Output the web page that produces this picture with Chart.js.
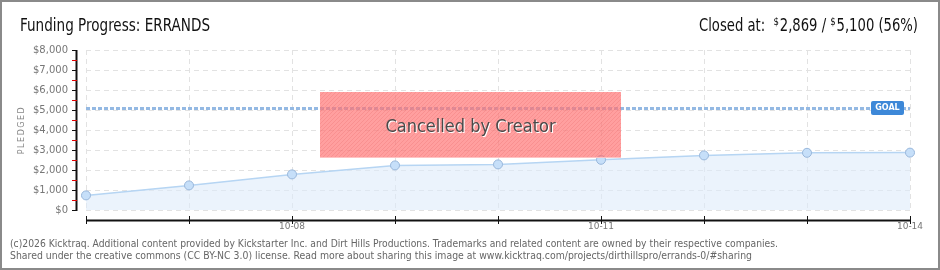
<!DOCTYPE html>
<html>
<head>
<meta charset="utf-8">
<script src="https://cdn.jsdelivr.net/npm/chart.js@4.4.1/dist/chart.umd.min.js"></script>
<style>
  html, body { margin: 0; padding: 0; background: #fff; }
  #wrap { width: 940px; height: 270px; position: relative; }
</style>
</head>
<body>
<div id="wrap"><canvas id="fundingChart" width="940" height="270"></canvas></div>
<script>
// data
const days    = ['10-06', '10-07', '10-08', '10-09', '10-10', '10-11', '10-12', '10-13', '10-14'];
const pledged = [730, 1230, 1780, 2230, 2280, 2510, 2730, 2860, 2869];
const shownDays = ['10-08', '10-11', '10-14'];
const goal = 5100;
const yTicks = [0, 1000, 2000, 3000, 4000, 5000, 6000, 7000, 8000];

const TITLE_FONT = '"Liberation Sans Narrow", "DejaVu Sans Condensed", sans-serif';

const fmtMoney = v => '$' + v.toLocaleString('en-US');

// everything Chart.js doesn't draw on its own: frame, titles, axes, goal, banner, footer
const decorations = {
    id: 'decorations',
    beforeDatasetsDraw(chart) {
        const ctx = chart.ctx;
        const y = chart.scales.y;
        const area = chart.chartArea;

        // goal line
        const gy = Math.round(y.getPixelForValue(goal)) + 0.5;
        ctx.save();
        ctx.strokeStyle = '#94b9e3';
        ctx.lineWidth = 3;
        ctx.setLineDash([4, 2]);
        ctx.beginPath();
        ctx.moveTo(area.left, gy);
        ctx.lineTo(area.right, gy);
        ctx.stroke();
        ctx.restore();
    },
    afterDraw(chart) {
        const ctx = chart.ctx;
        const x = chart.scales.x;
        const y = chart.scales.y;
        ctx.save();

        // outer frame
        ctx.strokeStyle = '#8a8a8a';
        ctx.lineWidth = 2;
        ctx.strokeRect(1, 1, chart.width - 2, chart.height - 2);

        // title left
        ctx.fillStyle = '#111';
        ctx.textBaseline = 'alphabetic';
        ctx.textAlign = 'left';
        ctx.font = '17px ' + TITLE_FONT;
        ctx.fillText('Funding Progress: ERRANDS', 20, 31, 190);

        // title right, with small raised dollar signs, squeezed to the reference width
        const parts = [
            ['Closed at:  ', false],
            ['$', true],
            ['2,869 / ', false],
            ['$', true],
            ['5,100 (56%)', false]
        ];
        const bigFont = '17px ' + TITLE_FONT;
        const smallFont = '11px ' + TITLE_FONT;
        let total = 0;
        parts.forEach(([t, small]) => {
            ctx.font = small ? smallFont : bigFont;
            total += ctx.measureText(t).width + (small ? 1 : 0);
        });
        const squeeze = Math.min(1, 219 / total);
        ctx.save();
        ctx.translate(918 - total * squeeze, 0);
        ctx.scale(squeeze, 1);
        let px = 0;
        parts.forEach(([t, small]) => {
            ctx.font = small ? smallFont : bigFont;
            ctx.fillText(t, px, small ? 25 : 31);
            px += ctx.measureText(t).width + (small ? 1 : 0);
        });
        ctx.restore();

        // y axis line + ticks
        const axX = 76.5;
        ctx.strokeStyle = '#111';
        ctx.lineWidth = 2;
        ctx.beginPath();
        ctx.moveTo(axX, y.getPixelForValue(8000));
        ctx.lineTo(axX, y.getPixelForValue(0) + 1);
        ctx.stroke();
        ctx.lineWidth = 1;
        for (let v = 0; v <= 8000; v += 500) {
            const ty = Math.round(y.getPixelForValue(v)) + 0.5;
            ctx.strokeStyle = v % 1000 === 0 ? '#111' : '#e00000';
            ctx.beginPath();
            ctx.moveTo(72, ty);
            ctx.lineTo(77, ty);
            ctx.stroke();
        }

        // x axis line + ticks (sits below the plot)
        const axY = 220.5;
        ctx.strokeStyle = '#111';
        ctx.lineWidth = 2;
        ctx.beginPath();
        ctx.moveTo(x.getPixelForValue(0), axY);
        ctx.lineTo(x.getPixelForValue(days.length - 1), axY);
        ctx.stroke();
        ctx.lineWidth = 1;
        days.forEach((d, i) => {
            const tx = Math.round(x.getPixelForValue(i)) + 0.5;
            ctx.beginPath();
            ctx.moveTo(tx, 216);
            ctx.lineTo(tx, 224);
            ctx.stroke();
        });

        // y axis title
        ctx.save();
        ctx.translate(22, 130);
        ctx.rotate(-Math.PI / 2);
        ctx.fillStyle = '#888';
        ctx.font = '8px "DejaVu Sans", sans-serif';
        ctx.textAlign = 'center';
        ctx.textBaseline = 'middle';
        ctx.letterSpacing = '1.5px';
        ctx.fillText('PLEDGED', 0, 0);
        ctx.restore();

        // goal label
        const gy = Math.round(y.getPixelForValue(goal));
        ctx.fillStyle = '#3d88d8';
        ctx.beginPath();
        ctx.roundRect(871, gy - 7, 33, 14, 2);
        ctx.fill();
        ctx.fillStyle = '#fff';
        ctx.font = 'bold 8px "DejaVu Sans", sans-serif';
        ctx.textAlign = 'center';
        ctx.textBaseline = 'middle';
        ctx.fillText('GOAL', 887.5, gy);

        // cancelled banner
        const bx = 320, by = 92, bw = 301, bh = 66;
        ctx.fillStyle = 'rgba(255, 118, 118, 0.7)';
        ctx.fillRect(bx, by, bw, bh);
        ctx.save();
        ctx.beginPath();
        ctx.rect(bx, by, bw, bh);
        ctx.clip();
        ctx.strokeStyle = 'rgba(230, 100, 100, 0.25)';
        ctx.lineWidth = 1;
        for (let k = -bh; k < bw; k += 4) {
            ctx.beginPath();
            ctx.moveTo(bx + k, by + bh);
            ctx.lineTo(bx + k + bh, by);
            ctx.stroke();
        }
        ctx.restore();
        ctx.fillStyle = 'rgba(255, 200, 200, 0.9)';
        ctx.fillRect(bx, by + bh - 1, bw, 1);

        ctx.font = '18px ' + TITLE_FONT;
        ctx.textAlign = 'center';
        ctx.textBaseline = 'alphabetic';
        ctx.fillStyle = '#fff';
        ctx.fillText('Cancelled by Creator', bx + bw / 2 + 1, 133);
        ctx.fillStyle = '#4a4a4a';
        ctx.fillText('Cancelled by Creator', bx + bw / 2, 132);

        // footer
        ctx.fillStyle = '#666';
        ctx.textAlign = 'left';
        ctx.font = '10px "DejaVu Sans", sans-serif';
        ctx.fillText('(c)2026 Kicktraq. Additional content provided by Kickstarter Inc. and Dirt Hills Productions. Trademarks and related content are owned by their respective companies.', 10, 247, 768);
        ctx.fillText('Shared under the creative commons (CC BY-NC 3.0) license. Read more about sharing this image at www.kicktraq.com/projects/dirthillspro/errands-0/#sharing', 10, 259, 742);

        ctx.restore();
    }
};

new Chart(document.getElementById('fundingChart'), {
    type: 'line',
    data: {
        labels: days,
        datasets: [{
            label: 'Pledged',
            data: pledged,
            borderColor: '#b6d5f3',
            borderWidth: 1.5,
            backgroundColor: 'rgba(222, 235, 250, 0.6)',
            fill: 'origin',
            tension: 0,
            pointRadius: 4.5,
            pointBackgroundColor: '#c6dff9',
            pointBorderColor: '#98b6da',
            pointBorderWidth: 1
        }]
    },
    options: {
        responsive: false,
        animation: false,
        events: [],
        layout: { padding: { left: 0, right: 30, top: 50, bottom: 0 } },
        plugins: {
            legend: { display: false },
            title: { display: false },
            tooltip: { enabled: false }
        },
        scales: {
            x: {
                type: 'category',
                offset: false,
                afterFit(scale) { scale.height = 60; },
                grid: {
                    color: '#e2e2e2',
                    drawTicks: false
                },
                border: { display: false, dash: [5, 4] },
                ticks: {
                    padding: 11,
                    color: '#777',
                    font: { family: '"DejaVu Sans", sans-serif', size: 9 },
                    maxRotation: 0,
                    autoSkip: false,
                    callback(value, index) {
                        const d = days[index];
                        return shownDays.includes(d) ? d : '';
                    }
                }
            },
            y: {
                min: 0,
                max: 8000,
                afterFit(scale) { scale.width = 86; },
                afterBuildTicks(scale) {
                    scale.ticks = yTicks.map(v => ({ value: v }));
                },
                border: { display: false, dash: [5, 4] },
                grid: {
                    color: '#e2e2e2',
                    drawTicks: false
                },
                ticks: {
                    padding: 18,
                    color: '#777',
                    font: { family: '"DejaVu Sans", sans-serif', size: 10 },
                    callback: v => fmtMoney(v)
                }
            }
        }
    },
    plugins: [decorations]
});
</script>
</body>
</html>
